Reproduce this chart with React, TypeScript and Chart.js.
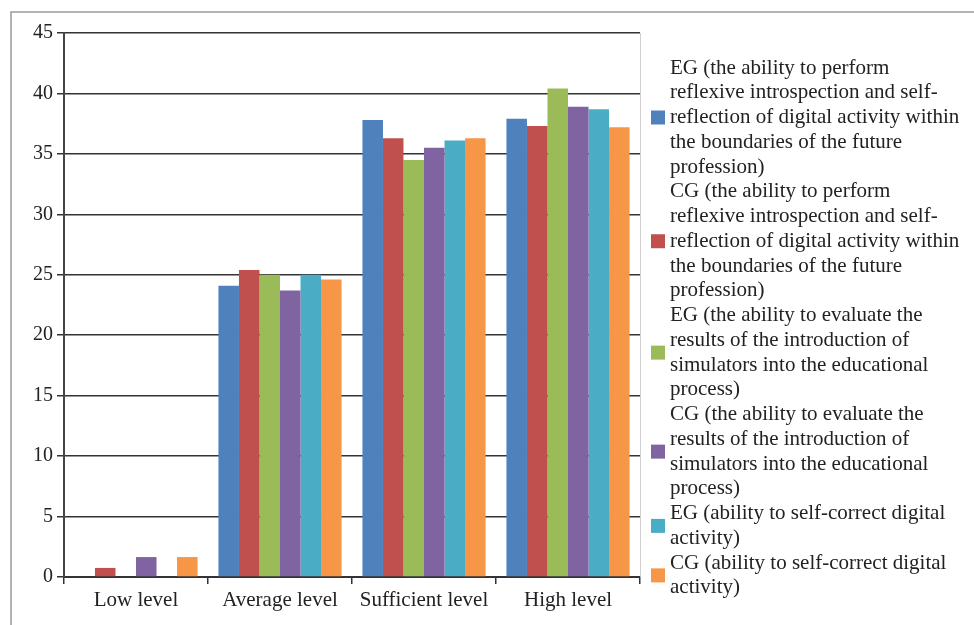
import React, { useEffect, useRef } from "react";
import { Chart, registerables } from "chart.js";

Chart.register(...registerables);

const categories = ["Low level", "Average level", "Sufficient level", "High level"];

const egReflection = [0, 24.1, 37.8, 37.9];
const cgReflection = [0.75, 25.4, 36.3, 37.3];
const egSimulators = [0, 25.0, 34.5, 40.4];
const cgSimulators = [1.65, 23.7, 35.5, 38.9];
const egSelfCorrect = [0, 25.0, 36.1, 38.7];
const cgSelfCorrect = [1.65, 24.6, 36.3, 37.2];

const yMin = 0;
const yMax = 45;
const yStep = 5;

const seriesColors = ["#4F81BD", "#C0504D", "#9BBB59", "#8064A2", "#4BACC6", "#F79646"];

const seriesLabels: string[][] = [
  [
    "EG (the ability to perform",
    "reflexive introspection and self-",
    "reflection of digital activity within",
    "the boundaries of the future",
    "profession)",
  ],
  [
    "CG (the ability to perform",
    "reflexive introspection and self-",
    "reflection of digital activity within",
    "the boundaries of the future",
    "profession)",
  ],
  [
    "EG (the ability to evaluate the",
    "results of the introduction of",
    "simulators into the educational",
    "process)",
  ],
  [
    "CG (the ability to evaluate the",
    "results of the introduction of",
    "simulators into the educational",
    "process)",
  ],
  ["EG (ability to self-correct digital", "activity)"],
  ["CG (ability to self-correct digital", "activity)"],
];

const seriesValues = [egReflection, cgReflection, egSimulators, cgSimulators, egSelfCorrect, cgSelfCorrect];

const FONT = "'Liberation Serif', 'Times New Roman', serif";
const TEXT_COLOR = "#222222";

const framePlugin = {
  id: "framePlugin",
  beforeDraw(chart: any) {
    const ctx = chart.ctx;
    ctx.save();
    ctx.fillStyle = "#ffffff";
    ctx.fillRect(0, 0, chart.width, chart.height);
    ctx.strokeStyle = "#9a9a9a";
    ctx.lineWidth = 1.5;
    ctx.beginPath();
    ctx.moveTo(11, chart.height);
    ctx.lineTo(11, 12);
    ctx.lineTo(chart.width, 12);
    ctx.stroke();
    ctx.restore();
  },
  afterDatasetsDraw(chart: any) {
    const ctx = chart.ctx;
    const a = chart.chartArea;
    ctx.save();
    ctx.strokeStyle = "#d0d0d0";
    ctx.lineWidth = 1;
    ctx.beginPath();
    ctx.moveTo(a.right + 0.5, a.top);
    ctx.lineTo(a.right + 0.5, a.bottom);
    ctx.stroke();
    ctx.restore();
  },
  afterDraw(chart: any) {
    const ctx = chart.ctx;
    const lineH = 24.75;
    const textX = 670;
    const boxX = 651;
    const boxSize = 14;
    let y = 68;
    ctx.save();
    ctx.font = `21px ${FONT}`;
    ctx.textBaseline = "middle";
    ctx.textAlign = "left";
    chart.data.datasets.forEach((ds: any, i: number) => {
      const lines: string[] = seriesLabels[i];
      const first = y;
      lines.forEach((ln) => {
        ctx.fillStyle = TEXT_COLOR;
        ctx.fillText(ln, textX, y);
        y += lineH;
      });
      const last = y - lineH;
      const mid = (first + last) / 2;
      ctx.fillStyle = ds.backgroundColor;
      ctx.fillRect(boxX, mid - boxSize / 2, boxSize, boxSize);
    });
    ctx.restore();
  },
};

export default function App() {
  const canvasRef = useRef<HTMLCanvasElement | null>(null);

  useEffect(() => {
    const canvas = canvasRef.current;
    if (!canvas) return;
    const chart = new Chart(canvas, {
      type: "bar",
      data: {
        labels: categories,
        datasets: seriesValues.map((vals, i) => ({
          label: seriesLabels[i].join(" "),
          data: vals,
          backgroundColor: seriesColors[i],
          borderWidth: 0,
          categoryPercentage: 0.855,
          barPercentage: 1.0,
        })),
      },
      options: {
        responsive: false,
        animation: false,
        devicePixelRatio: 1,
        layout: { padding: { left: 0, top: 33, right: 334, bottom: 0 } },
        plugins: {
          legend: { display: false },
          tooltip: { enabled: false },
          title: { display: false },
        },
        scales: {
          x: {
            afterFit: (scale: any) => {
              scale.height = 48;
            },
            grid: {
              display: true,
              drawOnChartArea: false,
              drawTicks: true,
              tickLength: 7,
              offset: true,
              color: "#333333",
              lineWidth: 1.5,
            },
            border: { display: true, color: "#333333", width: 2 },
            ticks: {
              color: TEXT_COLOR,
              font: { family: FONT, size: 21 },
              padding: 4,
              maxRotation: 0,
            },
          },
          y: {
            min: yMin,
            max: yMax,
            afterFit: (scale: any) => {
              scale.width = 64;
            },
            grid: {
              color: "#333333",
              lineWidth: 1.5,
              tickLength: 7,
              drawTicks: true,
            },
            border: { display: true, color: "#444444", width: 2 },
            ticks: {
              stepSize: yStep,
              color: TEXT_COLOR,
              font: { family: FONT, size: 20 },
              padding: 4,
            },
          },
        },
      },
      plugins: [framePlugin],
    });
    return () => chart.destroy();
  }, []);

  return (
    <div style={{ position: "fixed", left: 0, top: 0, width: 974, height: 625, background: "#fff" }}>
      <canvas ref={canvasRef} width={974} height={625} style={{ width: 974, height: 625, display: "block" }} />
    </div>
  );
}
